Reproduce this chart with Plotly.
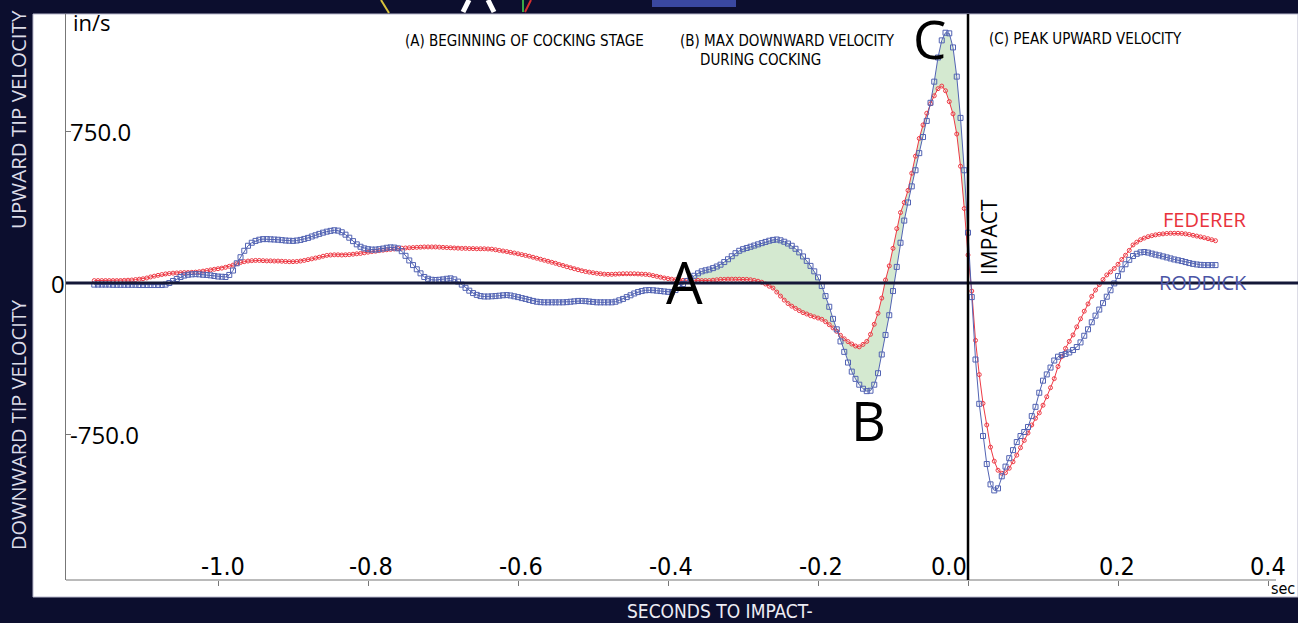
import plotly.graph_objects as go

# ---------------- data ----------------
T_START = -1.165   # s, first sample
T_STEP = 0.005     # s, sampling interval (200 Hz)

FEDERER = [
    12, 12, 12, 12, 12, 12, 12, 12, 13, 14, 15, 17, 19, 21, 25, 30, 34, 38, 42, 45,
    47, 49, 50, 51, 52, 52, 53, 54, 56, 59, 62, 65, 68, 71, 74, 78, 83, 89, 96, 102,
    106, 109, 111, 112, 112, 111, 110, 110, 109, 109, 108, 107, 106, 106, 107, 109, 112, 116, 120, 124,
    128, 133, 137, 139, 140, 140, 139, 140, 141, 143, 145, 147, 150, 153, 156, 158, 161, 163, 165, 167,
    169, 171, 173, 174, 175, 176, 177, 178, 179, 179, 179, 179, 178, 177, 176, 175, 174, 173, 172, 172,
    171, 171, 170, 170, 170, 169, 168, 165, 162, 159, 156, 152, 149, 145, 141, 137, 133, 128, 123, 118,
    113, 108, 103, 98, 92, 87, 81, 76, 71, 66, 61, 57, 54, 51, 48, 46, 44, 43, 43, 44,
    45, 46, 46, 46, 46, 45, 44, 43, 41, 37, 33, 29, 25, 22, 19, 16, 14, 13, 13, 13,
    13, 13, 12, 12, 12, 14, 16, 18, 18, 19, 19, 19, 19, 18, 18, 16, 13, 9, 4, -5,
    -16, -25, -45, -65, -85, -102, -115, -126, -137, -147, -154, -162, -168, -174, -180, -192, -207, -223, -240, -260,
    -277, -291, -303, -313, -317, -305, -290, -255, -205, -150, -75, 15, 85, 172, 270, 350, 400, 460, 545, 630,
    718, 785, 843, 890, 930, 965, 978, 955, 901, 840, 740, 580, 370, 139, -40, -285, -455, -598, -705, -815,
    -885, -930, -945, -942, -920, -888, -855, -818, -782, -745, -705, -672, -645, -607, -565, -520, -475, -415, -365, -325,
    -290, -258, -218, -178, -140, -104, -66, -35, -8, 17, 40, 55, 72, 93, 117, 138, 162, 189, 203, 215,
    223, 230, 235, 239, 242, 244, 246, 247, 247, 247, 246, 244, 241, 237, 233, 229, 225, 220, 215, 210,
]

RODDICK = [
    -8, -8, -8, -8, -8, -9, -9, -9, -9, -9, -9, -9, -10, -10, -10, -10, -10, -10, -10, -8,
    0, 10, 20, 30, 37, 41, 43, 44, 43, 41, 40, 38, 35, 32, 31, 30, 40, 62, 98, 128,
    160, 185, 200, 209, 215, 218, 218, 217, 216, 215, 213, 211, 210, 209, 211, 214, 219, 224, 231, 237,
    244, 250, 255, 259, 262, 260, 252, 240, 225, 208, 192, 180, 172, 168, 166, 166, 168, 171, 175, 177,
    176, 172, 158, 135, 112, 89, 68, 48, 30, 21, 16, 15, 16, 18, 21, 23, 18, 7, -8, -24,
    -38, -50, -59, -65, -67, -67, -66, -65, -63, -61, -60, -62, -66, -70, -75, -79, -84, -89, -93, -95,
    -96, -96, -96, -96, -96, -96, -95, -93, -91, -89, -89, -90, -92, -94, -96, -96, -96, -96, -96, -93,
    -86, -79, -70, -61, -52, -45, -40, -36, -35, -36, -38, -40, -42, -44, -45, -35, -20, -5, 10, 24,
    36, 48, 58, 63, 67, 74, 82, 91, 104, 118, 133, 148, 160, 168, 174, 180, 186, 192, 198, 204,
    210, 214, 216, 212, 205, 196, 185, 170, 152, 132, 110, 85, 58, 28, -15, -65, -118, -178, -230, -290,
    -342, -395, -440, -476, -505, -525, -537, -535, -505, -448, -355, -258, -160, -40, 80, 200, 310, 400, 480, 560,
    645, 725, 805, 895, 1000, 1120, 1205, 1243, 1240, 1170, 1025, 820, 560, 250, -70, -380, -600, -760, -899, -1000,
    -1030, -1020, -960, -912, -870, -830, -790, -760, -740, -715, -661, -615, -545, -485, -454, -420, -385, -366, -358, -352,
    -345, -333, -318, -295, -262, -230, -195, -162, -132, -100, -68, -36, -2, 35, 68, 93, 115, 134, 145, 152,
    154, 151, 146, 141, 137, 132, 127, 122, 117, 113, 109, 104, 99, 95, 92, 90, 89, 89, 89, 89,
]

TIME = [round(T_START + i * T_STEP, 3) for i in range(len(FEDERER))]

FILL_START, FILL_END = -0.365, 0.005   # shaded interval between the two curves

X_TICKS = [-1.0, -0.8, -0.6, -0.4, -0.2, 0.0, 0.2, 0.4]
X_TICK_TEXT = ["-1.0", "-0.8", "-0.6", "-0.4", "-0.2", "0.0", "0.2", "0.4"]
X_TICK_SHIFT = [5, 3, 3, 3, 3, -19, -1, 0]
Y_TICKS = [750, 0, -750]
Y_TICK_TEXT = ["750.0", "0", "-750.0"]

# ---------------- layout geometry ----------------
W, H = 1298, 623
L, R, T, B = 66, 0, 14, 43
X_RANGE = [-1.2027, 0.44]
Y_RANGE = [-1475, 1336]

NAVY = "#0c0e2e"
RED = "#ee3a45"
BLUE = "#5263b3"
GREEN = "#d4e9d0"
SANS = "Open Sans, Noto Sans, sans-serif"
NARROW = "Liberation Sans Narrow, Arial Narrow, DejaVu Sans Condensed, sans-serif"

PW, PH = W - L - R, H - T - B


def dx(px):
    return X_RANGE[0] + (px - L) / PW * (X_RANGE[1] - X_RANGE[0])


def dy(py):
    return Y_RANGE[1] - (py - T) / PH * (Y_RANGE[1] - Y_RANGE[0])


def paper_x(px):
    return (px - L) / PW


def paper_y(py):
    return (H - B - py) / PH


fig = go.Figure()

# shaded area between curves
sel = [i for i, t in enumerate(TIME) if FILL_START - 1e-9 <= t <= FILL_END + 1e-9]
fill_t = [TIME[i] for i in sel]
fill_f = [FEDERER[i] for i in sel]
fill_r = [RODDICK[i] for i in sel]
fig.add_trace(go.Scatter(x=fill_t, y=fill_f, mode="lines", line=dict(width=0),
                         hoverinfo="skip", showlegend=False))
fig.add_trace(go.Scatter(x=fill_t, y=fill_r, mode="lines", line=dict(width=0),
                         fill="tonexty", fillcolor=GREEN, hoverinfo="skip", showlegend=False))

fig.add_trace(go.Scatter(
    x=TIME, y=FEDERER, mode="lines+markers", name="FEDERER",
    line=dict(color=RED, width=1),
    marker=dict(symbol="circle-open", size=4, color=RED, line=dict(width=1, color=RED)),
))
fig.add_trace(go.Scatter(
    x=TIME, y=RODDICK, mode="lines+markers", name="RODDICK",
    line=dict(color=BLUE, width=1),
    marker=dict(symbol="square-open", size=5, color=BLUE, line=dict(width=1, color=BLUE)),
))

shapes = [
    # white chart panel
    dict(type="rect", xref="paper", yref="paper", x0=paper_x(33), x1=1.0,
         y0=paper_y(597), y1=1.0, fillcolor="white",
         line=dict(color="#b8b8cc", width=1), layer="below"),
    # x axis line
    dict(type="line", xref="paper", yref="paper", x0=0, x1=paper_x(1276), y0=0, y1=0,
         line=dict(color="#777777", width=1)),
    # zero line
    dict(type="line", xref="x", yref="y", x0=X_RANGE[0], x1=X_RANGE[1], y0=0, y1=0,
         line=dict(color="#141838", width=3), layer="above"),
    # impact line
    dict(type="line", xref="x", yref="y", x0=0, x1=0, y0=Y_RANGE[0], y1=Y_RANGE[1],
         line=dict(color="black", width=2.5), layer="above"),
    # cropped artwork fragments in the top band
    dict(type="line", xref="paper", yref="paper", x0=paper_x(381), x1=paper_x(389),
         y0=paper_y(0), y1=paper_y(13), line=dict(color="#d8c23c", width=2)),
    dict(type="line", xref="paper", yref="paper", x0=paper_x(469), x1=paper_x(463),
         y0=paper_y(0), y1=paper_y(12), line=dict(color="white", width=5)),
    dict(type="line", xref="paper", yref="paper", x0=paper_x(488), x1=paper_x(494),
         y0=paper_y(0), y1=paper_y(12), line=dict(color="white", width=5)),
    dict(type="line", xref="paper", yref="paper", x0=paper_x(523), x1=paper_x(523),
         y0=paper_y(0), y1=paper_y(12), line=dict(color="#3aa846", width=2)),
    dict(type="line", xref="paper", yref="paper", x0=paper_x(531), x1=paper_x(525),
         y0=paper_y(0), y1=paper_y(12), line=dict(color="#d83030", width=2)),
    dict(type="rect", xref="paper", yref="paper", x0=paper_x(652), x1=paper_x(736),
         y0=paper_y(7), y1=paper_y(0), fillcolor="#3a48a0", line=dict(width=0)),
]

ann = []


def add_text(text, x, y, size, color="black", family=SANS, xanchor="center",
             yanchor="middle", xref="x", yref="y", angle=0, xshift=0):
    ann.append(dict(text=text, x=x, y=y, xref=xref, yref=yref, showarrow=False,
                    xanchor=xanchor, yanchor=yanchor, textangle=angle, xshift=xshift,
                    font=dict(family=family, size=size, color=color)))


# axis tick labels
for v, s, sh in zip(X_TICKS, X_TICK_TEXT, X_TICK_SHIFT):
    add_text(s, v, dy(566), 25, family=NARROW, xshift=sh)
add_text(Y_TICK_TEXT[0], dx(68), Y_TICKS[0], 24, xanchor="left")
add_text(Y_TICK_TEXT[1], dx(67), Y_TICKS[1], 24, xanchor="right")
add_text(Y_TICK_TEXT[2], dx(68), Y_TICKS[2], 24, xanchor="left")

add_text("in/s", dx(71), dy(22), 22, xanchor="left")
add_text("(A) BEGINNING OF COCKING STAGE", dx(403), dy(41), 15, family=NARROW, xanchor="left")
add_text("(B) MAX DOWNWARD VELOCITY", dx(678), dy(41), 15, family=NARROW, xanchor="left")
add_text("DURING COCKING", dx(698), dy(60), 15, family=NARROW, xanchor="left")
add_text("(C) PEAK UPWARD VELOCITY", dx(987), dy(39), 15, family=NARROW, xanchor="left")
add_text("A", dx(684), dy(281), 58)
add_text("B", dx(868), dy(420), 54)
add_text("C", dx(929), dy(38), 53)
add_text("IMPACT", dx(989), dy(237), 21, angle=-90)
add_text("FEDERER", dx(1205), dy(219), 20, color="#e8333c")
add_text("RODDICK", dx(1203), dy(282), 20, color="#4b55a5")

# outer frame labels
add_text("UPWARD TIP VELOCITY", paper_x(18), paper_y(120), 20.5, color="#dcdce8",
         xref="paper", yref="paper", angle=-90)
add_text("DOWNWARD TIP VELOCITY", paper_x(18), paper_y(425), 20, color="#dcdce8",
         xref="paper", yref="paper", angle=-90)
add_text("SECONDS TO IMPACT-", paper_x(720), paper_y(611), 19, color="#ececf4",
         family=NARROW, xref="paper", yref="paper")
add_text("sec", paper_x(1269), paper_y(588), 16, family=NARROW, xanchor="left",
         xref="paper", yref="paper")

fig.update_layout(
    width=W, height=H,
    margin=dict(l=L, r=R, t=T, b=B, pad=0),
    paper_bgcolor=NAVY, plot_bgcolor="white",
    showlegend=False,
    xaxis=dict(range=X_RANGE, showgrid=False, zeroline=False, showline=False,
               ticks="outside", tickvals=X_TICKS, ticklen=5, tickcolor="#777777",
               showticklabels=False),
    yaxis=dict(range=Y_RANGE, showgrid=False, zeroline=False, showline=True,
               linecolor="#777777", linewidth=1, ticks="inside", tickvals=Y_TICKS,
               ticklen=5, tickcolor="#777777", showticklabels=False),
    shapes=shapes,
    annotations=ann,
)

fig.write_html(
    "out.html",
    config={"displayModeBar": False},
    post_script="document.body.style.margin='0px';document.body.style.padding='0px';"
                "document.body.style.overflow='hidden';",
)
